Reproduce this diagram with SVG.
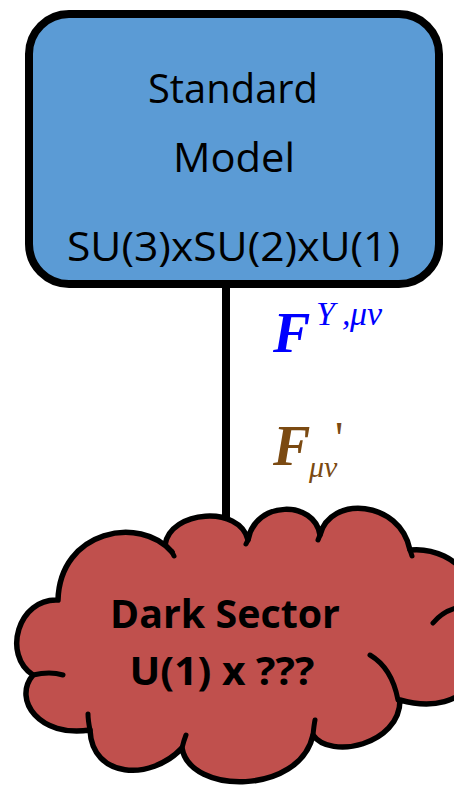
<svg xmlns="http://www.w3.org/2000/svg" width="454" height="787" viewBox="0 0 454 787">
<style>
.lbl{font-family:"Open Sans","Noto Sans","Liberation Sans",sans-serif;fill:#000;text-anchor:middle}
.math{font-family:"Liberation Serif","Times New Roman",serif;font-style:italic}
.big{font-weight:bold}
.blue{fill:#0000FF}
.brown{fill:#7B4A12}
.arc{fill:none;stroke:#000;stroke-width:5;stroke-linecap:round}
</style>
<rect width="454" height="787" fill="#FFFFFF"/>
<g id="connectors">
<line x1="226" y1="286" x2="226" y2="537" stroke="#000" stroke-width="8"/>
</g>
<g id="standard-model">
<rect x="29" y="14" width="410" height="270" rx="40" ry="40" fill="#5B9BD5" stroke="#000" stroke-width="8"/>
<text class="lbl" x="233" y="103" font-size="40" textLength="170" lengthAdjust="spacingAndGlyphs">Standard</text>
<text class="lbl" x="234" y="172" font-size="40" textLength="122" lengthAdjust="spacingAndGlyphs">Model</text>
<text class="lbl" x="233.5" y="261" font-size="40" textLength="333" lengthAdjust="spacingAndGlyphs">SU(3)xSU(2)xU(1)</text>
</g>
<g id="dark-sector">
<path d="M58,600 C60,530 140,515 172,552 L165,545 C170,510 240,505 248,540 C255,500 315,500 320,535 C330,495 400,500 410,550 C460,545 495,600 468,625 C498,660 470,720 400,700 C400,745 330,760 313,735 C300,795 190,795 182,748 C150,782 92,778 90,730 C40,738 12,700 33,675 C2,655 18,598 58,600 Z" fill="#C0504D" stroke="#000" stroke-width="5.5" stroke-linejoin="round"/>
<path class="arc" d="M433,623 Q442,612 456,608"/>
<path class="arc" d="M370,655 Q392,668 398,700"/>
<path class="arc" d="M33,675 Q50,671 63,675"/>
<path class="arc" d="M172,552 L174,556"/>
<path class="arc" d="M248,540 L246,544"/>
<path class="arc" d="M320,535 L318,540"/>
<path class="arc" d="M410,550 L412,556"/>
<path class="arc" d="M313,735 Q314,725 315,720"/>
<path class="arc" d="M90,730 Q88,720 88,714"/>
<path class="arc" d="M182,748 Q184,740 186,735"/>
<text class="lbl" x="225" y="628" font-size="40" font-weight="bold" textLength="230" lengthAdjust="spacingAndGlyphs">Dark Sector</text>
<text class="lbl" x="222" y="685" font-size="40" font-weight="bold" textLength="185" lengthAdjust="spacingAndGlyphs">U(1) x ???</text>
</g>
<g id="labels">
<text class="math big blue" x="273" y="352" font-size="56">F</text>
<text class="math blue" x="316" y="325" font-size="34">Y</text>
<text class="math blue" x="342" y="325" font-size="34">,</text>
<text class="math blue" x="350" y="325" font-size="34">μν</text>
<text class="math big brown" x="273" y="465" font-size="56">F</text>
<text class="brown" x="335" y="454" font-size="46" font-family="Liberation Serif,serif">'</text>
<text class="math brown" x="309" y="477" font-size="30">μν</text>
</g>
</svg>
